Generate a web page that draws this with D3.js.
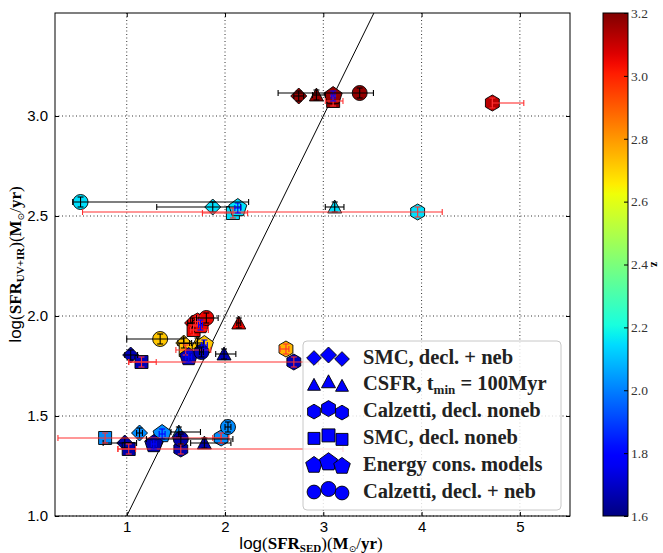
<!DOCTYPE html>
<html>
<head>
<meta charset="utf-8">
<script src="https://cdn.jsdelivr.net/npm/d3@7.9.0/dist/d3.min.js"></script>
<style>
  body { margin: 0; background: #fff; }
  svg { display: block; }
</style>
</head>
<body>
<svg id="chart" width="663" height="553"></svg>
<script>
// each row: [log SFR_SED, log SFR_UV+IR, z, x error low end, x error high end]
const smcDeclNeb = [
  [2.75, 3.100, 3.17, 2.70, 2.80],
  [1.875, 2.545, 2.15, 1.305, 2.16],
  [1.67, 1.965, 3.05, 1.62, 1.72],
  [1.58, 1.865, 2.72, 1.52, 1.64],
  [1.04, 1.805, 1.68, 0.98, 1.11],
  [1.13, 1.415, 2.02, 1.10, 1.16],
  [0.98, 1.365, 1.66, 0.76, 1.10]
];
const csfr100 = [
  [2.93, 3.105, 3.17, 2.89, 3.02],
  [3.116, 2.545, 2.15, 3.02, 3.21],
  [2.14, 1.965, 3.05, 2.12, 2.16],
  [1.72, 1.865, 2.72, 1.66, 1.78],
  [1.99, 1.810, 1.68, 1.905, 2.11],
  [1.53, 1.420, 2.02, 1.45, 1.75],
  [1.79, 1.365, 1.66, 1.65, 2.06]
];
const calzDeclNoneb = [
  [4.72, 3.065, 3.12, 4.72, 5.04],
  [3.96, 2.520, 2.15, 0.55, 4.21],
  [1.72, 1.975, 3.05, 1.70, 1.74],
  [2.62, 1.835, 2.75, 2.56, 2.65],
  [2.70, 1.770, 1.68, 1.02, 2.95],
  [1.96, 1.390, 2.02, 1.875, 2.04],
  [1.55, 1.335, 1.66, 0.91, 3.20]
];
const smcDeclNoneb = [
  [3.10, 3.075, 3.17, 3.02, 3.20],
  [2.08, 2.515, 2.15, 1.77, 2.23],
  [1.68, 1.930, 3.05, 1.65, 1.83],
  [1.60, 1.830, 2.72, 1.50, 1.855],
  [1.15, 1.770, 1.68, 1.02, 1.30],
  [0.78, 1.390, 2.02, 0.30, 1.96],
  [1.02, 1.335, 1.66, 0.91, 1.09]
];
const energyCons = [
  [3.10, 3.100, 3.17, 3.08, 3.12],
  [2.13, 2.540, 2.15, 2.10, 2.16],
  [1.75, 1.955, 3.05, 1.73, 1.77],
  [1.79, 1.855, 2.72, 1.76, 1.82],
  [1.63, 1.795, 1.68, 1.60, 1.66],
  [1.36, 1.410, 2.02, 1.33, 1.39],
  [1.275, 1.360, 1.66, 1.25, 1.30]
];
const calzDeclNeb = [
  [3.37, 3.115, 3.17, 2.54, 3.51],
  [0.53, 2.570, 2.15, 0.45, 2.24],
  [1.81, 1.990, 3.05, 1.71, 1.93],
  [1.34, 1.885, 2.72, 1.00, 1.58],
  [1.76, 1.820, 1.68, 1.74, 1.78],
  [2.03, 1.445, 2.02, 2.00, 2.06],
  [1.55, 1.385, 1.66, 1.20, 2.08]
];
const yErr = 0.025;

const xTicks = [1, 2, 3, 4, 5];
const yTicks = [1.0, 1.5, 2.0, 2.5, 3.0];
const zTicks = [1.6, 1.8, 2.0, 2.2, 2.4, 2.6, 2.8, 3.0, 3.2];

const series = [
  { name: 'smc', data: smcDeclNeb, shape: 'diamond', size: 8, bar: '#000' },
  { name: 'csfr', data: csfr100, shape: 'triangle', size: 7, bar: '#000' },
  { name: 'calzNoneb', data: calzDeclNoneb, shape: 'hexagon', size: 8, bar: '#ff3030' },
  { name: 'smcNoneb', data: smcDeclNoneb, shape: 'square', size: 6.5, bar: '#ff3030' },
  { name: 'energy', data: energyCons, shape: 'pentagon', size: 9.5, bar: '#0000ff' },
  { name: 'calzNeb', data: calzDeclNeb, shape: 'circle', size: 7.5, bar: '#000' }
];

// --- marker shapes ---
function polygon(n, r, rot) {
  let pts = d3.range(n).map(k => {
    let a = rot + k * 2 * Math.PI / n;
    return [r * Math.cos(a), -r * Math.sin(a)];
  });
  return 'M' + pts.map(p => p.join(',')).join('L') + 'Z';
}
const shapePath = {
  diamond: r => `M0,${-r}L${r},0L0,${r}L${-r},0Z`,
  triangle: r => `M0,${-r}L${r},${r * 0.85}L${-r},${r * 0.85}Z`,
  hexagon: r => polygon(6, r, Math.PI / 2),
  square: r => `M${-r},${-r}H${r}V${r}H${-r}Z`,
  pentagon: r => polygon(5, r, Math.PI / 2),
  circle: r => d3.arc()({ innerRadius: 0, outerRadius: r, startAngle: 0, endAngle: 2 * Math.PI })
};

// matplotlib jet colormap
const jetR = d3.scaleLinear().domain([0, 0.35, 0.66, 0.89, 1]).range([0, 0, 1, 1, 0.5]).clamp(true);
const jetG = d3.scaleLinear().domain([0, 0.125, 0.375, 0.64, 0.91, 1]).range([0, 0, 1, 1, 0, 0]).clamp(true);
const jetB = d3.scaleLinear().domain([0, 0.11, 0.34, 0.65, 1]).range([0.5, 1, 1, 0, 0]).clamp(true);
const jet = t => d3.rgb(jetR(t) * 255, jetG(t) * 255, jetB(t) * 255).formatHex();
const color = d3.scaleSequential(jet).domain([1.6, 3.2]);

const svg = d3.select('#chart');
const pL = 55, pR = 570, pT = 13, pB = 516;

const x = d3.scaleLinear().domain([0.27, 5.51]).range([pL, pR]);
const y = d3.scaleLinear().domain([1.0, 3.515]).range([pB, pT]);

const defs = svg.append('defs');
defs.append('clipPath').attr('id', 'plotclip')
  .append('rect').attr('x', pL).attr('y', pT).attr('width', pR - pL).attr('height', pB - pT);

// grid
let grid = svg.append('g');
grid.selectAll('.gx').data(xTicks).join('line')
  .attr('x1', d => x(d)).attr('x2', d => x(d)).attr('y1', pT).attr('y2', pB)
  .attr('stroke', '#000').attr('stroke-width', 0.8).attr('stroke-dasharray', '1,2.5');
grid.selectAll('.gy').data(yTicks).join('line')
  .attr('y1', d => y(d)).attr('y2', d => y(d)).attr('x1', pL).attr('x2', pR)
  .attr('stroke', '#000').attr('stroke-width', 0.8).attr('stroke-dasharray', '1,2.5');

let plot = svg.append('g').attr('clip-path', 'url(#plotclip)');

// one-to-one line
plot.append('line')
  .attr('x1', x(0.5)).attr('y1', y(0.5)).attr('x2', x(4)).attr('y2', y(4))
  .attr('stroke', '#000').attr('stroke-width', 1);

// markers
series.forEach(s => {
  plot.append('g').selectAll('path').data(s.data).join('path')
    .attr('d', shapePath[s.shape](s.size))
    .attr('transform', d => `translate(${x(d[0])},${y(d[1])})`)
    .attr('fill', d => color(d[2]))
    .attr('stroke', '#000').attr('stroke-width', 0.9);
});

// error bars on top
series.forEach(s => {
  let g = plot.append('g').attr('stroke', s.bar).attr('stroke-width', 1.1).attr('fill', 'none');
  s.data.forEach(d => {
    let cx = x(d[0]), cy = y(d[1]);
    let x0 = x(d[3]), x1 = x(d[4]);
    let y0 = y(d[1] - yErr), y1 = y(d[1] + yErr);
    g.append('line').attr('x1', x0).attr('x2', x1).attr('y1', cy).attr('y2', cy);
    g.append('line').attr('x1', x0).attr('x2', x0).attr('y1', cy - 3).attr('y2', cy + 3);
    g.append('line').attr('x1', x1).attr('x2', x1).attr('y1', cy - 3).attr('y2', cy + 3);
    g.append('line').attr('x1', cx).attr('x2', cx).attr('y1', y0).attr('y2', y1);
    g.append('line').attr('x1', cx - 3).attr('x2', cx + 3).attr('y1', y0).attr('y2', y0);
    g.append('line').attr('x1', cx - 3).attr('x2', cx + 3).attr('y1', y1).attr('y2', y1);
  });
});

// axes
let xAxis = svg.append('g').attr('transform', `translate(0,${pB})`)
  .call(d3.axisBottom(x).tickValues(xTicks).tickFormat(d3.format('d')).tickSize(-4).tickPadding(5));
let xTop = svg.append('g').attr('transform', `translate(0,${pT})`)
  .call(d3.axisTop(x).tickValues(xTicks).tickFormat('').tickSize(-4));
let yAxis = svg.append('g').attr('transform', `translate(${pL},0)`)
  .call(d3.axisLeft(y).tickValues(yTicks).tickFormat(d3.format('.1f')).tickSize(-4).tickPadding(7));
let yRight = svg.append('g').attr('transform', `translate(${pR},0)`)
  .call(d3.axisRight(y).tickValues(yTicks).tickFormat('').tickSize(-4));
[xAxis, xTop, yAxis, yRight].forEach(a => {
  a.select('.domain').remove();
  a.selectAll('text').attr('font-family', 'Liberation Sans, Arial, sans-serif').attr('font-size', 15).attr('fill', '#000');
});
svg.append('rect').attr('x', pL).attr('y', pT).attr('width', pR - pL).attr('height', pB - pT)
  .attr('fill', 'none').attr('stroke', '#000').attr('stroke-width', 1);

// axis labels
const serif = 'Liberation Serif, Times New Roman, serif';
function unitLabel(t, sub) {
  t.append('tspan').attr('font-family', 'Liberation Sans, sans-serif').text('log');
  t.append('tspan').attr('font-family', serif).text('(');
  t.append('tspan').attr('font-family', serif).attr('font-weight', 'bold').text('SFR');
  t.append('tspan').attr('font-family', serif).attr('font-weight', 'bold').attr('font-size', 11).attr('dy', 3).text(sub);
  t.append('tspan').attr('font-family', serif).attr('dy', -3).text(')(');
  t.append('tspan').attr('font-family', serif).attr('font-weight', 'bold').text('M');
  t.append('tspan').attr('font-family', 'DejaVu Sans, sans-serif').attr('font-size', 9).attr('dy', 3).text('\u2299');
  t.append('tspan').attr('font-family', serif).attr('dy', -3).text('/');
  t.append('tspan').attr('font-family', serif).attr('font-weight', 'bold').text('yr');
  t.append('tspan').attr('font-family', serif).text(')');
}
unitLabel(svg.append('text').attr('x', 311).attr('y', 549).attr('text-anchor', 'middle')
  .attr('font-size', 17).attr('fill', '#000'), 'SED');
unitLabel(svg.append('text').attr('transform', `translate(21,${(pT + pB) / 2}) rotate(-90)`)
  .attr('text-anchor', 'middle').attr('font-size', 17).attr('fill', '#000'), 'UV+IR');

// legend
const legendLabels = [
  ['SMC, decl. + neb'],
  ['CSFR, t', 'min', ' = 100Myr'],
  ['Calzetti, decl. noneb'],
  ['SMC, decl. noneb'],
  ['Energy cons. models'],
  ['Calzetti, decl. + neb']
];
let lg = svg.append('g');
lg.append('rect').attr('x', 303).attr('y', 341).attr('width', 258).attr('height', 169).attr('rx', 4)
  .attr('fill', '#fff').attr('fill-opacity', 0.82).attr('stroke', '#c8c8c8').attr('stroke-width', 1);
const rowY = d3.scaleLinear().domain([0, 5]).range([357, 491]);
const legOffsets = [[314, 1], [328.5, -2], [342, 2]];
series.forEach((s, i) => {
  let cy = rowY(i);
  legOffsets.forEach(([ox, oy], j) => {
    let r = s.size * (j === 1 ? 1.0 : 0.92);
    lg.append('path').attr('d', shapePath[s.shape](r))
      .attr('transform', `translate(${ox},${cy + oy})`)
      .attr('fill', '#0000ff').attr('stroke', '#000').attr('stroke-width', 0.9);
  });
  let t = lg.append('text').attr('x', 363).attr('y', cy + 6.5)
    .attr('font-family', serif).attr('font-weight', 'bold').attr('font-size', 20.5).attr('fill', '#222');
  let parts = legendLabels[i];
  t.append('tspan').text(parts[0]);
  if (parts.length > 1) {
    t.append('tspan').attr('font-size', 13).attr('dy', 4).text(parts[1]);
    t.append('tspan').attr('dy', -4).text(parts[2]);
  }
});

// colorbar
const cbL = 603, cbR = 628;
const zScale = d3.scaleLinear().domain([1.6, 3.2]).range([pB, pT]);
let grad = defs.append('linearGradient').attr('id', 'jetgrad')
  .attr('x1', 0).attr('y1', 1).attr('x2', 0).attr('y2', 0);
d3.range(0, 1.0001, 0.02).forEach(t => {
  grad.append('stop').attr('offset', t).attr('stop-color', jet(t));
});
svg.append('rect').attr('x', cbL).attr('y', pT).attr('width', cbR - cbL).attr('height', pB - pT)
  .attr('fill', 'url(#jetgrad)').attr('stroke', '#000').attr('stroke-width', 1);
let cbAxis = svg.append('g').attr('transform', `translate(${cbR},0)`)
  .call(d3.axisRight(zScale).tickValues(zTicks).tickFormat(d3.format('.1f')).tickSize(-4).tickPadding(3));
cbAxis.select('.domain').remove();
cbAxis.selectAll('text').attr('font-family', serif).attr('font-size', 13.5).attr('fill', '#333');
svg.append('text').attr('transform', `translate(651,${(pT + pB) / 2}) rotate(90)`)
  .attr('text-anchor', 'middle').attr('font-family', serif).attr('font-weight', 'bold')
  .attr('font-size', 12).attr('fill', '#000').text('z');
</script>
</body>
</html>
